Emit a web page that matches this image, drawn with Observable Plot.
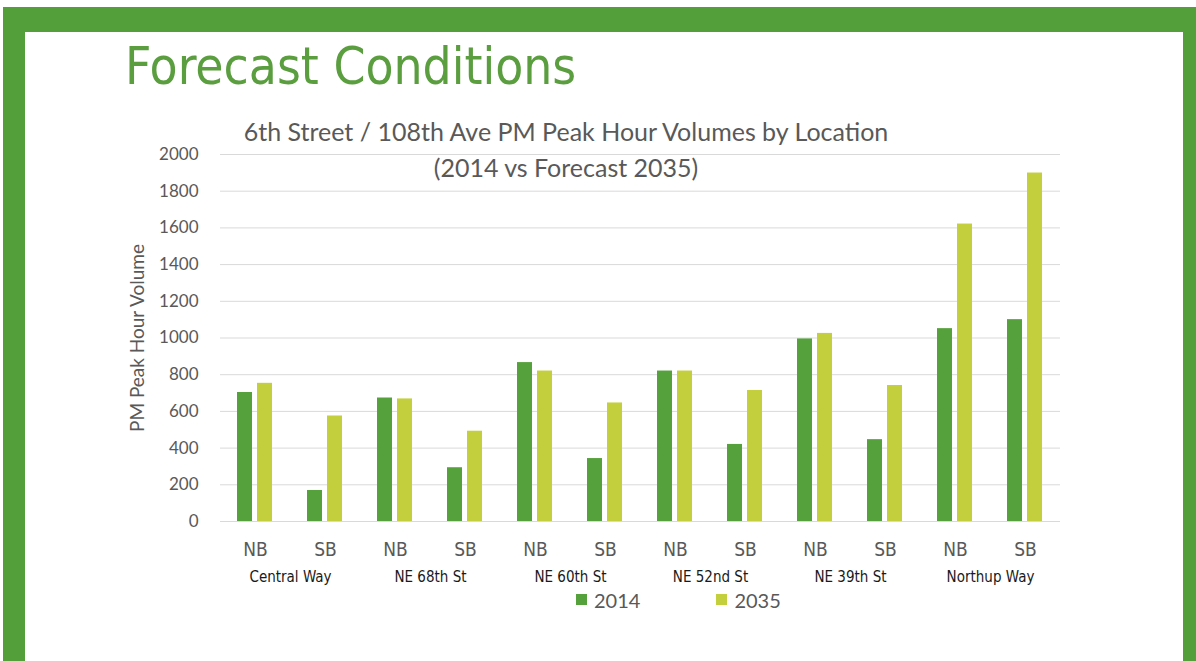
<!DOCTYPE html>
<html>
<head>
<meta charset="utf-8">
<script src="https://cdn.jsdelivr.net/npm/d3@7"></script>
<script src="https://cdn.jsdelivr.net/npm/@observablehq/plot@0.6"></script>
<style>
  html, body { margin: 0; padding: 0; background: #ffffff; width: 1196px; height: 661px; overflow: hidden; position: relative; }
  .band { position: absolute; background: #53a03a; }
  #title { position: absolute; left: 125px; top: 37px; font-family: "Liberation Sans Narrow", "DejaVu Sans Condensed", sans-serif; font-size: 51px; color: #5a9e3f; white-space: nowrap; }
  .ctitle { position: absolute; left: 0; width: 1132px; text-align: center; font-family: Lato, "Open Sans", sans-serif; font-size: 25px; color: #595959; white-space: nowrap; }
  #chart { position: absolute; left: 0; top: 0; }
  #legend { position: absolute; top: 585px; left: 576px; font-family: Lato, "Open Sans", sans-serif; font-size: 20px; color: #595959; white-space: nowrap; }
  #legend span.item { display: inline-flex; align-items: center; margin-right: 76px; }
  #legend span.sw { display: inline-block; width: 11px; height: 11px; margin-right: 7px; }
</style>
</head>
<body>
<div class="band" style="left:3px; top:7px; width:1193px; height:25px;"></div>
<div class="band" style="left:3px; top:7px; width:22px; height:654px;"></div>
<div class="band" style="left:1183px; top:7px; width:13px; height:654px;"></div>
<div id="title">Forecast Conditions</div>
<div id="chart"></div>
<div class="ctitle" id="t1" style="top:116px;">6th Street / 108th Ave  PM Peak Hour Volumes by Location</div>
<div class="ctitle" id="t2" style="top:152px;">(2014 vs Forecast 2035)</div>
<div id="legend"></div>
<script>
// ---- data ----
const locations = ["Central Way", "NE 68th St", "NE 60th St", "NE 52nd St", "NE 39th St", "Northup Way"];
const directions = ["NB", "SB"];
const years = ["2014", "2035"];
const values2014 = [703, 169, 673, 293, 866, 343, 820, 420, 995, 446, 1051, 1100];
const values2035 = [753, 575, 668, 492, 820, 646, 820, 714, 1025, 741, 1621, 1899];
const yTicks = [0, 200, 400, 600, 800, 1000, 1200, 1400, 1600, 1800, 2000];
const yLabel = "PM Peak Hour Volume";
const colors = ["#55a13b", "#c3cf3c"];

// ---- build tables ----
const keys = [];
locations.forEach(l => directions.forEach(d => keys.push(l + "|" + d)));
const bars = [];
keys.forEach((k, i) => {
  bars.push({key: k, year: years[0], value: values2014[i]});
  bars.push({key: k, year: years[1], value: values2035[i]});
});
const locLabels = locations.map(l => ({key: l + "|" + directions[0], loc: l}));

const font = 'Lato, "Open Sans", sans-serif';
const narrow = '"Liberation Sans Narrow", "DejaVu Sans Condensed", sans-serif';

const chart = Plot.plot({
  width: 1196,
  height: 661,
  marginLeft: 220,
  marginRight: 136,
  marginTop: 154,
  marginBottom: 140,
  style: {fontFamily: font, color: "#595959", background: "transparent", overflow: "visible"},
  fx: {domain: keys, padding: 0},
  x: {domain: years, paddingInner: 0.24, paddingOuter: 0.83},
  y: {domain: [0, 2000]},
  color: {domain: years, range: colors},
  marks: [
    Plot.ruleY(yTicks, {stroke: "#d9d9d9", strokeWidth: 1}),
    Plot.barY(bars, {fx: "key", x: "year", y: "value", fill: "year"}),
    Plot.axisY({ticks: yTicks, tickSize: 0, tickPadding: 22, fontSize: 17, tickFormat: d => String(d), label: yLabel, labelAnchor: "center", labelOffset: 90, labelArrow: "none"}),
    Plot.axisFx({anchor: "bottom", tickSize: 0, tickPadding: 21, fontSize: 19, fontFamily: narrow, label: null, tickFormat: k => k.split("|")[1]}),
    Plot.axisX({ticks: [], label: null}),
    Plot.text(locLabels, {fx: "key", text: "loc", frameAnchor: "bottom-right", textAnchor: "middle", lineAnchor: "middle", dy: 56, fontSize: 15, fontFamily: narrow, fill: "#1a1a1a"})
  ]
});
document.getElementById("chart").appendChild(chart);
chart.querySelectorAll("text").forEach(t => { if (t.textContent === yLabel) t.setAttribute("font-size", 19); });

// ---- legend ----
const legend = document.getElementById("legend");
years.forEach((y, i) => {
  const item = document.createElement("span");
  item.className = "item";
  item.innerHTML = `<span class="sw" style="background:${colors[i]}"></span>${y}`;
  legend.appendChild(item);
});
</script>
</body>
</html>
